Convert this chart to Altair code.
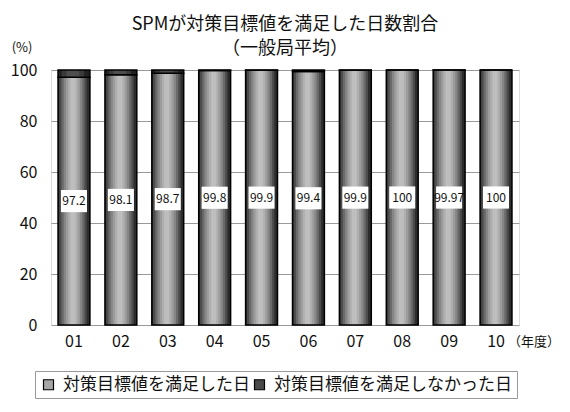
import altair as alt
import pandas as pd

years = ["01", "02", "03", "04", "05", "06", "07", "08", "09", "10"]
satisfied = [97.2, 98.1, 98.7, 99.8, 99.9, 99.4, 99.9, 100, 99.97, 100]
labels = ["97.2", "98.1", "98.7", "99.8", "99.9", "99.4", "99.9", "100", "99.97", "100"]
series_names = ["対策目標値を満足した日", "対策目標値を満足しなかった日"]

rows = []
for yr, s in zip(years, satisfied):
    rows.append({"year": yr, "series": series_names[0], "start": 0, "end": s})
    rows.append({"year": yr, "series": series_names[1], "start": s, "end": 100})
long_df = pd.DataFrame(rows)
lab_df = pd.DataFrame({"year": years, "mid": [s / 2 for s in satisfied], "label": labels})

FONT = "Noto Sans CJK JP"

xscale = alt.Scale(domain=years, paddingInner=0.32, paddingOuter=0.15)
yscale = alt.Scale(domain=[0, 100])

x_enc = alt.X("year:N", scale=xscale, sort=years,
              axis=alt.Axis(title=None, labelAngle=0, ticks=False, domain=False,
                            labelFontSize=16, labelPadding=8, labelColor="#111", labelFont=FONT))
y_enc = alt.Y("start:Q", scale=yscale,
              axis=alt.Axis(title=None, values=[0, 20, 40, 60, 80, 100], grid=True,
                            gridColor="#9a9a9a", gridWidth=1.2, ticks=False, domain=False,
                            labelFontSize=16, labelPadding=14, labelColor="#111", labelFont=FONT))
x_plain = alt.X("year:N", scale=xscale, sort=years)
y_plain = alt.Y("start:Q", scale=yscale)

# shading strips (band fraction, colour) imitating the cylinder look
light_strips = [(1.0, "#2c2c2c"), (0.86, "#4c4c4c"), (0.72, "#6a6a6a"), (0.58, "#868686"),
                (0.44, "#9c9c9c"), (0.3, "#afafaf"), (0.16, "#bebebe")]
dark_strips = [(1.0, "#222222"), (0.7, "#3a3a3a"), (0.4, "#4e4e4e")]

base = alt.Chart(long_df)

legend_layer = base.mark_bar(opacity=0).encode(
    x=x_enc, y=y_enc, y2="end:Q",
    color=alt.Color("series:N", sort=series_names,
                    scale=alt.Scale(domain=series_names, range=["#a6a6a6", "#4a4a4a"]),
                    legend=alt.Legend(title=None, orient="none", direction="horizontal",
                                      legendX=-16, legendY=301, labelFont=FONT, labelFontSize=17,
                                      labelColor="#111", symbolSize=100, symbolStrokeColor="black",
                                      symbolStrokeWidth=1.2, columnPadding=1, labelOffset=6,
                                      strokeColor="#999", padding=5, symbolType="square",
                                      symbolOpacity=1, labelLimit=320)),
)

layers = [legend_layer]
for name, strips in [(series_names[0], light_strips), (series_names[1], dark_strips)]:
    sub = base.transform_filter(alt.FieldEqualPredicate(field="series", equal=name))
    for frac, col in strips:
        layers.append(sub.mark_bar(color=col, width=alt.RelativeBandSize(frac),
                                   xOffset=-1 if frac < 1 else 0).encode(
            x=x_plain, y=y_plain, y2="end:Q"))
    layers.append(sub.mark_bar(fillOpacity=0, stroke="black", strokeWidth=1.5).encode(
        x=x_plain, y=y_plain, y2="end:Q"))

lab_base = alt.Chart(lab_df)
box_layer = lab_base.mark_point(
    shape="M-1,-0.85L1,-0.85L1,0.85L-1,0.85Z", size=680, filled=True, fill="white", opacity=1,
    strokeWidth=0).encode(
    x=x_plain, y=alt.Y("mid:Q", scale=yscale))
text_layer = lab_base.mark_text(font=FONT, fontSize=12, color="#111").encode(
    x=x_plain, y=alt.Y("mid:Q", scale=yscale), text="label:N")
layers += [box_layer, text_layer]

one = pd.DataFrame({"k": [0]})
def ann(txt, x, y, size, align="center"):
    return alt.Chart(one).mark_text(font=FONT, fontSize=size, color="#111", align=align,
                                    baseline="middle").encode(
        x=alt.value(x), y=alt.value(y), text=alt.value(txt))

layers += [
    ann("SPMが対策目標値を満足した日数割合", 234, -45, 18),
    ann("（一般局平均）", 234, -21, 18),
    ann("(%)", -29, -22, 13),
    ann("（年度）", 457, 272, 13, align="left"),
]

chart = alt.layer(*layers).properties(
    width=468, height=255,
    autosize=alt.AutoSizeParams(type="none"),
    padding={"left": 43, "top": 62, "right": 43, "bottom": 79},
).configure_view(stroke="#999", strokeWidth=1.2).configure(background="white")

chart.save("out.html", embed_options={"renderer": "svg", "actions": False})
